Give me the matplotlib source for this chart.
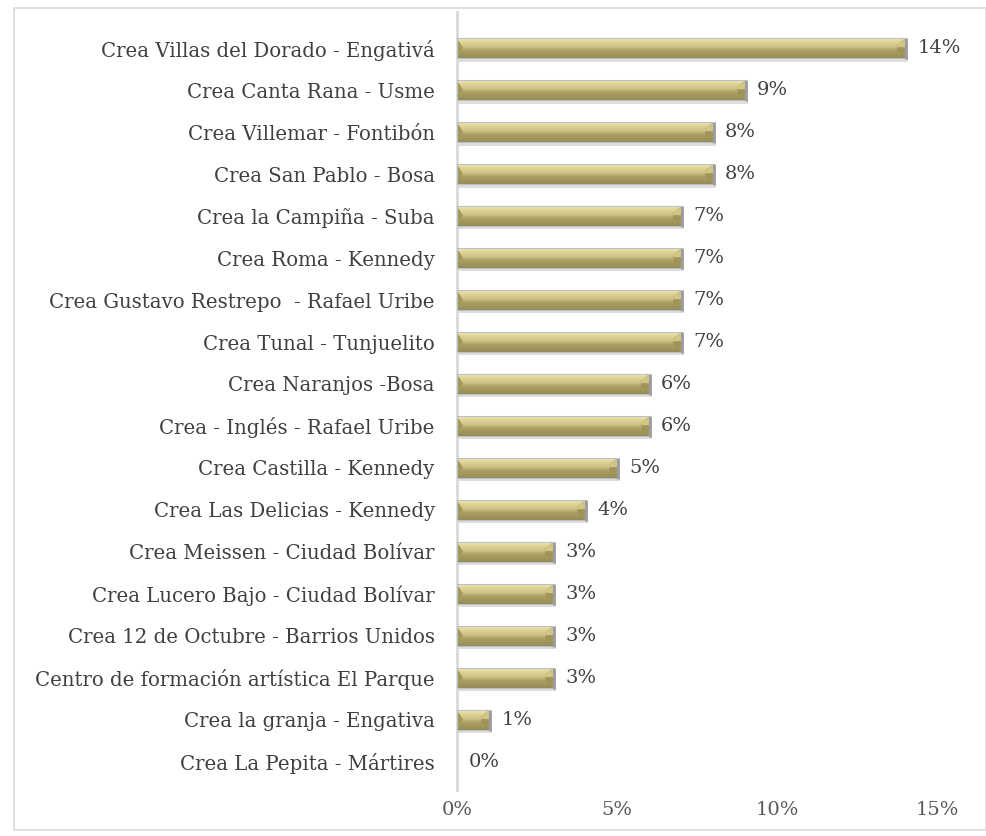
import numpy as np
import matplotlib
matplotlib.use("Agg")
import matplotlib.pyplot as plt
from matplotlib.patches import Rectangle, Polygon
from matplotlib.colors import LinearSegmentedColormap

# Data (top to bottom as in the chart)
centros = [
    "Crea Villas del Dorado - Engativá",
    "Crea Canta Rana - Usme",
    "Crea Villemar - Fontibón",
    "Crea San Pablo - Bosa",
    "Crea la Campiña - Suba",
    "Crea Roma - Kennedy",
    "Crea Gustavo Restrepo  - Rafael Uribe",
    "Crea Tunal - Tunjuelito",
    "Crea Naranjos -Bosa",
    "Crea - Inglés - Rafael Uribe",
    "Crea Castilla - Kennedy",
    "Crea Las Delicias - Kennedy",
    "Crea Meissen - Ciudad Bolívar",
    "Crea Lucero Bajo - Ciudad Bolívar",
    "Crea 12 de Octubre - Barrios Unidos",
    "Centro de formación artística El Parque",
    "Crea la granja - Engativa",
    "Crea La Pepita - Mártires",
]
porcentajes = [14, 9, 8, 8, 7, 7, 7, 7, 6, 6, 5, 4, 3, 3, 3, 3, 1, 0]
x_ticks = [0, 5, 10, 15]

plt.rcParams['font.family'] = ['DejaVu Serif']

fig = plt.figure(figsize=(9.87, 8.36), dpi=100)
fig.patch.set_facecolor('white')

# outer frame
fig.patches.append(Rectangle((14 / 987, 6 / 836), 972 / 987, 822 / 836,
                             transform=fig.transFigure, fill=False,
                             edgecolor='#d9d9d9', linewidth=1.2))

ax = fig.add_axes([457 / 987, 46 / 836, 480 / 987, 778 / 836])
n = len(centros)
y = np.arange(n)[::-1]
h = 0.46

# gold gradient, light on top, olive at the bottom
cmap = LinearSegmentedColormap.from_list(
    'oro', [(0, '#efe7b6'), (0.15, '#e3d89c'), (0.45, '#cdc183'),
            (0.6, '#aca165'), (1, '#968b55')])

for yi, v in zip(y, porcentajes):
    if v > 0:
        # shadow
        ax.add_patch(Rectangle((0, yi - h / 2 - 0.09), v + 0.08, h, facecolor='#bfbfbf',
                               edgecolor='none', alpha=0.5, zorder=1))
        bar = ax.barh(yi, v, height=h, color='#b0a56a', edgecolor='none', zorder=2)[0]
        im = ax.imshow(np.linspace(0, 1, 60).reshape(-1, 1), cmap=cmap, aspect='auto',
                       extent=(0, v, yi - h / 2, yi + h / 2), origin='upper', zorder=3)
        im.set_clip_path(bar)
        # bevels at both ends
        b = 0.24
        ax.add_patch(Polygon([(v - b, yi + h / 2 - 0.15), (v, yi + h / 2), (v, yi - h / 2),
                              (v - b, yi - h / 2 + 0.15)], closed=True,
                             facecolor='#a09558', edgecolor='none', zorder=4))
        ax.add_patch(Polygon([(v - b, yi + h / 2 - 0.15), (v, yi + h / 2), (v, yi + 0.02),
                              (v - b, yi + 0.02)], closed=True,
                             facecolor='#d2c686', edgecolor='none', zorder=4))
        ax.add_patch(Polygon([(0, yi + h / 2), (b * 0.8, yi), (0, yi - h / 2 + 0.08)],
                             closed=True, facecolor='#a39858', edgecolor='none', zorder=4))
        ax.add_patch(Rectangle((0, yi - h / 2), v, h, fill=False,
                               edgecolor='#b8c0c8', linewidth=0.8, zorder=5))
        ax.plot([v + 0.03, v + 0.03], [yi - h / 2 - 0.03, yi + h / 2], color='#9c9c9c',
                linewidth=2, solid_capstyle='butt', zorder=5)
    ax.text(v + 0.38, yi, f"{v}%", va='center', ha='left', fontsize=14,
            color='#404040', zorder=6)

ax.set_xlim(0, 15)
ax.set_ylim(-0.67, n - 1 + 0.86)
ax.set_yticks(y)
ax.set_yticklabels(centros, fontsize=14.2, color='#404040')
ax.set_xticks(x_ticks)
ax.set_xticklabels([f"{t}%" for t in x_ticks], fontsize=14, color='#595959')
ax.tick_params(axis='both', length=0)
ax.tick_params(axis='y', pad=16)
ax.tick_params(axis='x', pad=8)
for s in ['top', 'right', 'bottom']:
    ax.spines[s].set_visible(False)
ax.spines['left'].set_color('#d9d9d9')
ax.spines['left'].set_linewidth(2)
ax.set_facecolor('none')

fig.savefig('out.png', dpi=100)
